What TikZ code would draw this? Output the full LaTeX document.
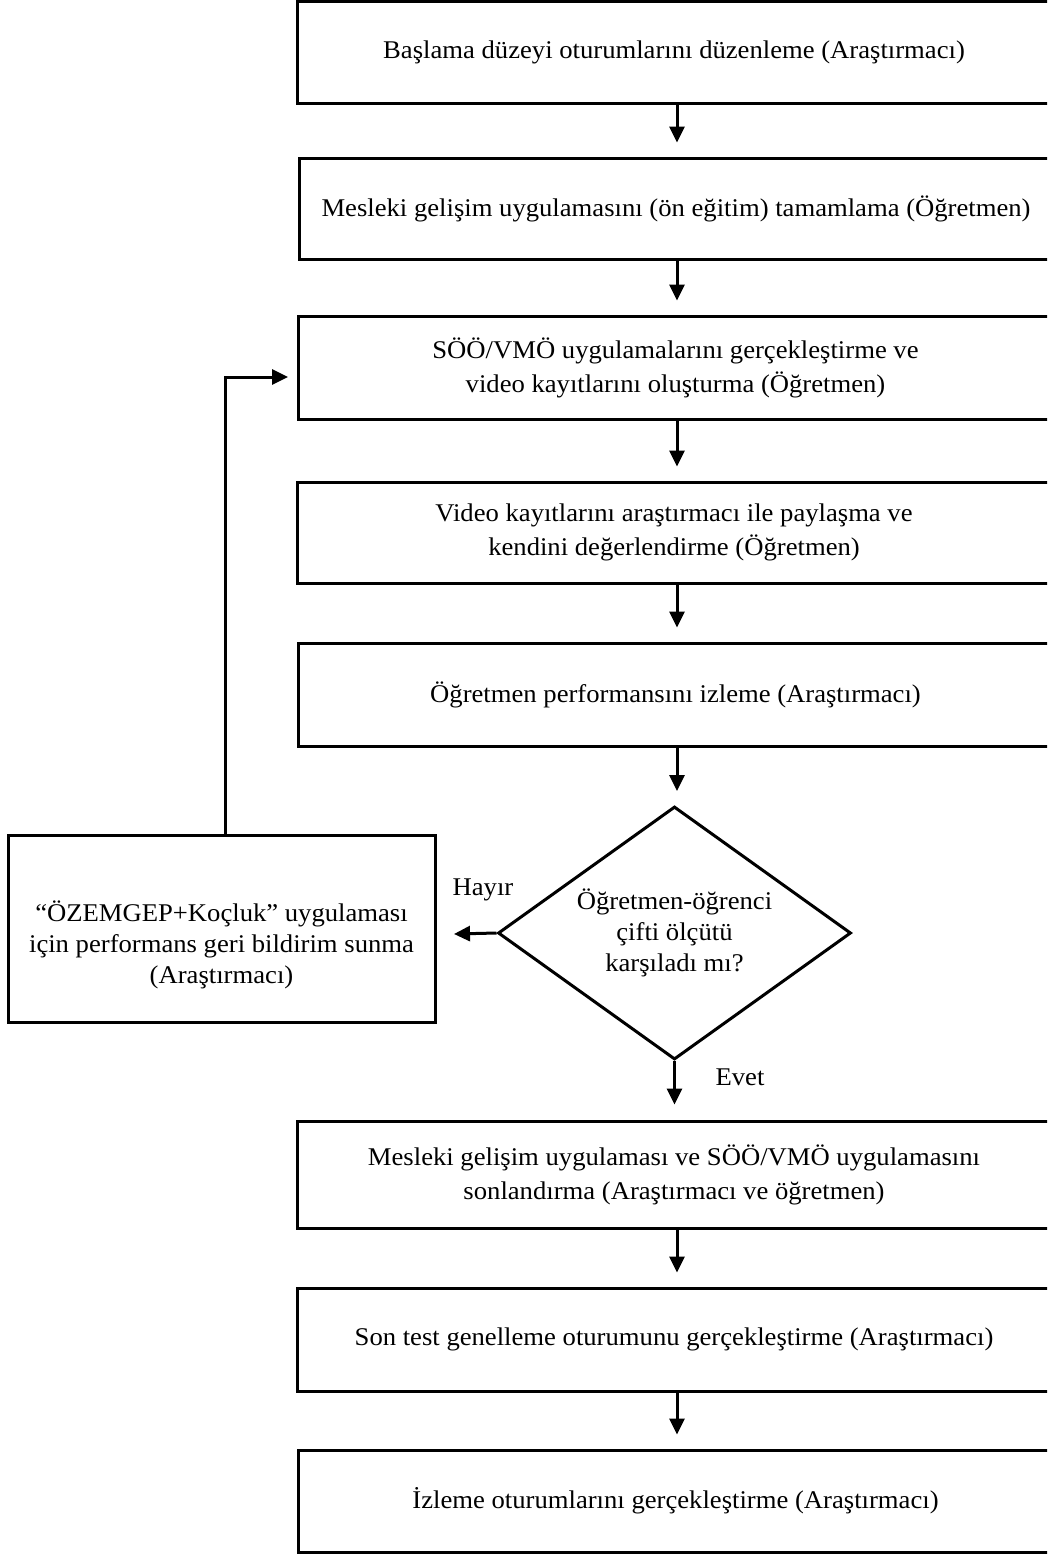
\documentclass[tikz,border=0pt]{standalone}
\usepackage{fontspec}
\setmainfont[FakeStretch=1.045]{Liberation Serif}
\usetikzlibrary{arrows.meta,shapes.geometric}
\begin{document}
\begin{tikzpicture}[x=1pt,y=-1pt,
  box/.style={draw, line width=3pt, rectangle, inner sep=0pt, align=center,
    minimum width=754pt, font=\fontsize{25.5}{34}\selectfont},
  flow/.style={line width=3pt, -{Triangle[length=16pt,width=15pt]}},
  lbl/.style={font=\fontsize{25.5}{31}\selectfont, inner sep=0pt, align=center}]
\useasboundingbox (0,0) rectangle (1047,1555);
\clip (0,0) rectangle (1047,1555);

\node[box, minimum height=101pt] (b1) at (674,52.5) {Başlama düzeyi oturumlarını düzenleme (Araştırmacı)};
\node[box, minimum height=101pt] (b2) at (676,208.5) {Mesleki gelişim uygulamasını (ön eğitim) tamamlama (Öğretmen)};
\node[box, minimum height=103pt] (b3) at (675.5,367.5) {SÖÖ/VMÖ uygulamalarını gerçekleştirme ve\\video kayıtlarını oluşturma (Öğretmen)};
\node[box, minimum height=101pt] (b4) at (674,532.5) {Video kayıtlarını araştırmacı ile paylaşma ve\\kendini değerlendirme (Öğretmen)};
\node[box, minimum height=103pt] (b5) at (675.5,694.5) {Öğretmen performansını izleme (Araştırmacı)};

\node[draw, diamond, line width=3pt, inner sep=0pt, aspect=1.395,
  minimum width=353pt, minimum height=253pt, lbl] (d) at (674.5,933)
  {Öğretmen-öğrenci\\çifti ölçütü\\karşıladı mı?};

\node[draw, line width=3pt, rectangle, inner sep=0pt,
  minimum width=427pt, minimum height=187pt] (lbox) at (221.5,928.5) {};
\node[lbl] (ltext) at (221.5,945) {“ÖZEMGEP+Koçluk” uygulaması\\için performans geri bildirim sunma\\(Araştırmacı)};

\node[lbl] (hayir) at (483,890) {Hayır};
\node[lbl] (evet) at (740,1077) {Evet};

\node[box, minimum height=107pt] (b6) at (674,1174.5) {Mesleki gelişim uygulaması ve SÖÖ/VMÖ uygulamasını\\sonlandırma (Araştırmacı ve öğretmen)};
\node[box, minimum height=103pt] (b7) at (674,1339.5) {Son test genelleme oturumunu gerçekleştirme (Araştırmacı)};
\node[box, minimum height=102pt] (b8) at (675.5,1501) {İzleme oturumlarını gerçekleştirme (Araştırmacı)};

\coordinate (hend) at (454,934);
\coordinate (fbend) at (288,377);

\draw[flow, shorten >=14pt] ([xshift=3pt]b1.south) -- ([xshift=3pt]b1.south |- b2.north);
\draw[flow, shorten >=14pt] ([xshift=1pt]b2.south) -- ([xshift=1pt]b2.south |- b3.north);
\draw[flow, shorten >=14pt] ([xshift=1.5pt]b3.south) -- ([xshift=1.5pt]b3.south |- b4.north);
\draw[flow, shorten >=14pt] ([xshift=3pt]b4.south) -- ([xshift=3pt]b4.south |- b5.north);
\draw[flow, shorten >=14pt] ([xshift=1.5pt]b5.south) -- ([xshift=1.5pt]b5.south |- d.north);
\draw[flow, shorten >=15pt] (d.south) -- (d.south |- b6.north);
\draw[flow, shorten >=14pt] ([xshift=3pt]b6.south) -- ([xshift=3pt]b6.south |- b7.north);
\draw[flow, shorten >=14pt] ([xshift=3pt]b7.south) -- ([xshift=3pt]b7.south |- b8.north);
\draw[flow] (d.west) -- (hend);
\draw[flow] ([xshift=3.5pt]lbox.north) |- (fbend);
\end{tikzpicture}
\end{document}
